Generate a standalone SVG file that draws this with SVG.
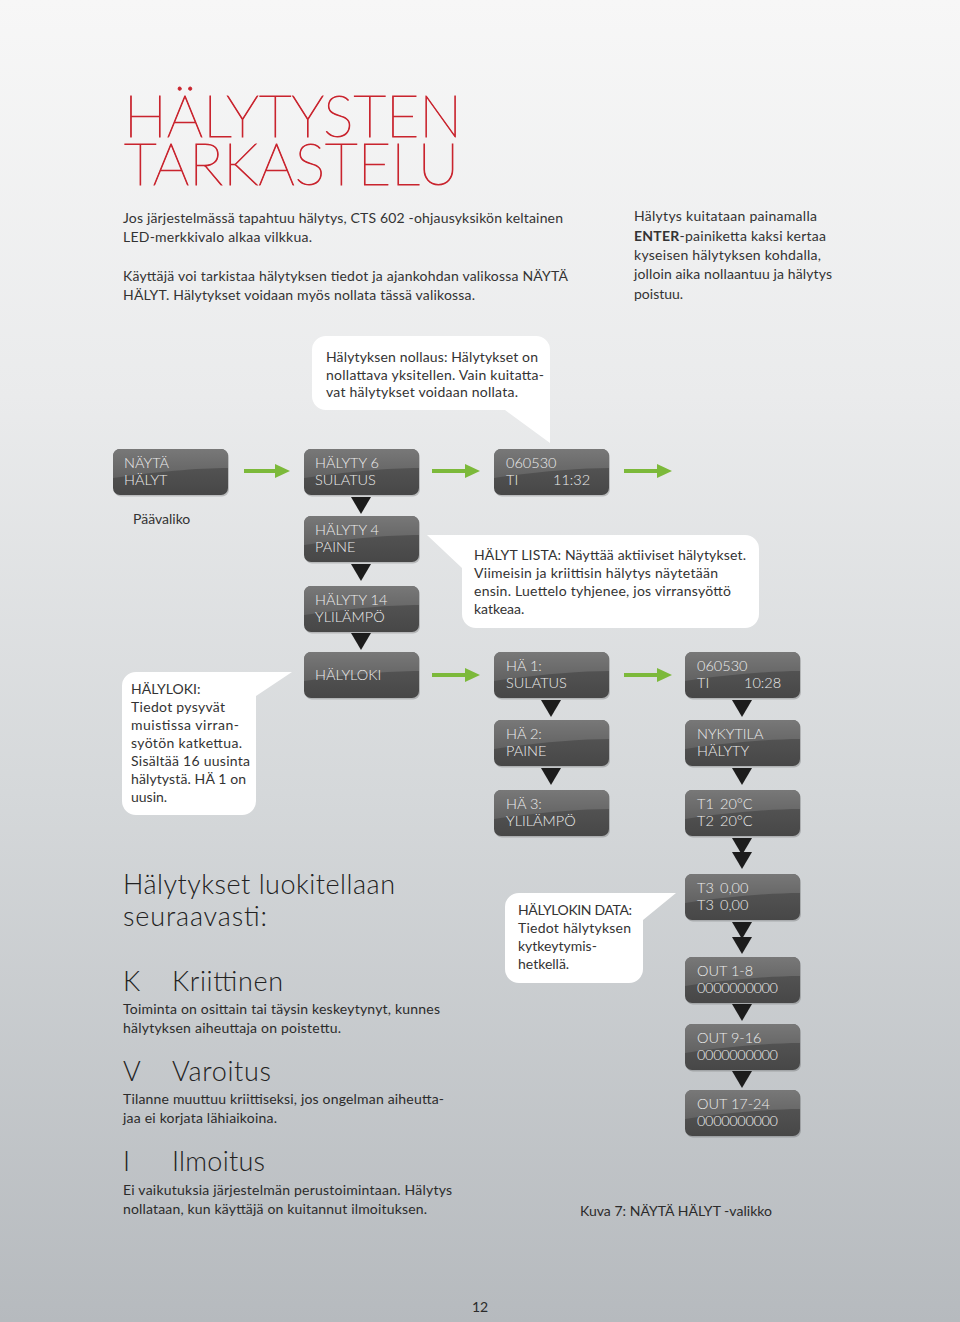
<svg xmlns="http://www.w3.org/2000/svg" xmlns:xlink="http://www.w3.org/1999/xlink" width="960" height="1322" viewBox="0 0 960 1322">
<style>
.t{font-family:Lato,"Liberation Sans",sans-serif;font-size:14px;fill:#333333}
.b{font-family:Lato,"Liberation Sans",sans-serif;font-size:14px;fill:#2b2b2b}
.lcd{font-family:Lato,"Liberation Sans",sans-serif;font-size:14.5px;fill:#ececec;font-weight:300}
.title{font-family:Lato,"Liberation Sans",sans-serif;font-size:58px;font-weight:100;fill:#c9242e;stroke:#c9242e;stroke-width:0.9}
.h{font-family:Lato,"Liberation Sans",sans-serif;font-size:27px;font-weight:300;fill:#222222}
.bubble{fill:#ffffff}
.tri{fill:#1c1c1c}
.garrow{stroke:#7cb93a;stroke-width:4}
.ghead{fill:#7cb93a}
</style>
<defs>
<linearGradient id="bg" x1="0" y1="0" x2="0" y2="1">
<stop offset="0" stop-color="#f7f7f7"/>
<stop offset="0.3" stop-color="#eaebec"/>
<stop offset="0.6" stop-color="#d5d8da"/>
<stop offset="1" stop-color="#b6babe"/>
</linearGradient>
<linearGradient id="gloss" x1="0" y1="0" x2="0" y2="1">
<stop offset="0" stop-color="#787878"/>
<stop offset="1" stop-color="#626262"/>
</linearGradient>
<linearGradient id="low" x1="0" y1="0" x2="0" y2="1">
<stop offset="0" stop-color="#5a5a5a"/>
<stop offset="1" stop-color="#474747"/>
</linearGradient>
<g id="lcdbox">
<rect x="1" y="1.5" width="115" height="46" rx="7" fill="#000000" opacity="0.18"/>
<rect width="115" height="46" rx="7" fill="url(#low)"/>
<path d="M7,0 H108 A7,7 0 0 1 115,7 V19 C85,19 40,23 0,29 V7 A7,7 0 0 1 7,0 Z" fill="url(#gloss)"/>
</g>
</defs>
<rect width="960" height="1322" fill="url(#bg)"/>

<g id="title">
<text class="title"><tspan x="124" y="137" textLength="338" lengthAdjust="spacingAndGlyphs">HÄLYTYSTEN</tspan><tspan x="124" y="185" textLength="335" lengthAdjust="spacingAndGlyphs">TARKASTELU</tspan></text>
</g>

<g id="intro">
<text class="t" x="123" y="223" textLength="440">Jos järjestelmässä tapahtuu hälytys, CTS 602 -ohjausyksikön keltainen</text>
<text class="t" x="123" y="242" textLength="189">LED-merkkivalo alkaa vilkkua.</text>
<text class="t" x="123" y="281" textLength="445">Käyttäjä voi tarkistaa hälytyksen tiedot ja ajankohdan valikossa NÄYTÄ</text>
<text class="t" x="123" y="300" textLength="352">HÄLYT. Hälytykset voidaan myös nollata tässä valikossa.</text>
</g>
<g id="intro-right">
<text class="t" x="634" y="221" textLength="183">Hälytys kuitataan painamalla</text>
<text class="t" x="634" y="241" textLength="192"><tspan font-weight="bold">ENTER</tspan>-painiketta kaksi kertaa</text>
<text class="t" x="634" y="260" textLength="187">kyseisen hälytyksen kohdalla,</text>
<text class="t" x="634" y="279" textLength="198">jolloin aika nollaantuu ja hälytys</text>
<text class="t" x="634" y="299">poistuu.</text>
</g>

<g id="bubble-nollaus">
<path class="bubble" d="M326,336 H536 A14,14 0 0 1 550,350 V443 L505,410 H326 A14,14 0 0 1 312,396 V350 A14,14 0 0 1 326,336 Z"/>
<text class="t" x="326" y="362" textLength="212">Hälytyksen nollaus: Hälytykset on</text>
<text class="t" x="326" y="380" textLength="218">nollattava yksitellen. Vain kuitatta-</text>
<text class="t" x="326" y="397" textLength="192">vat hälytykset voidaan nollata.</text>
</g>

<g id="bubble-lista">
<path class="bubble" d="M476,535 H745 A14,14 0 0 1 759,549 V614 A14,14 0 0 1 745,628 H476 A14,14 0 0 1 462,614 V568 L427,535 Z"/>
<text class="t" x="474" y="560" textLength="272">HÄLYT LISTA: Näyttää aktiiviset hälytykset.</text>
<text class="t" x="474" y="578" textLength="244">Viimeisin ja kriittisin hälytys näytetään</text>
<text class="t" x="474" y="596" textLength="257">ensin. Luettelo tyhjenee, jos virransyöttö</text>
<text class="t" x="474" y="614">katkeaa.</text>
</g>

<g id="bubble-halyloki">
<path class="bubble" d="M136,672 H292 L256,696 V801 A14,14 0 0 1 242,815 H136 A14,14 0 0 1 122,801 V686 A14,14 0 0 1 136,672 Z"/>
<text class="t" x="131" y="694">HÄLYLOKI:</text>
<text class="t" x="131" y="712" textLength="94">Tiedot pysyvät</text>
<text class="t" x="131" y="730" textLength="108">muistissa virran-</text>
<text class="t" x="131" y="748" textLength="111">syötön katkettua.</text>
<text class="t" x="131" y="766" textLength="119">Sisältää 16 uusinta</text>
<text class="t" x="131" y="784" textLength="115">hälytystä. HÄ 1 on</text>
<text class="t" x="131" y="802">uusin.</text>
</g>

<g id="bubble-data">
<path class="bubble" d="M519,893 H676 L643,920 V969 A14,14 0 0 1 629,983 H519 A14,14 0 0 1 505,969 V907 A14,14 0 0 1 519,893 Z"/>
<text class="t" x="518" y="915" textLength="114">HÄLYLOKIN DATA:</text>
<text class="t" x="518" y="933" textLength="113">Tiedot hälytyksen</text>
<text class="t" x="518" y="951">kytkeytymis-</text>
<text class="t" x="518" y="969">hetkellä.</text>
</g>

<g id="paavaliko"><text class="t" x="133" y="524">Päävaliko</text></g>

<g id="connectors">
<line class="garrow" x1="244" y1="471" x2="277" y2="471"/><polygon class="ghead" points="275,464 290,471 275,478"/>
<line class="garrow" x1="432" y1="471" x2="467" y2="471"/><polygon class="ghead" points="465,464 480,471 465,478"/>
<line class="garrow" x1="624" y1="471" x2="659" y2="471"/><polygon class="ghead" points="657,464 672,471 657,478"/>
<line class="garrow" x1="432" y1="675" x2="467" y2="675"/><polygon class="ghead" points="465,668 480,675 465,682"/>
<line class="garrow" x1="624" y1="675" x2="659" y2="675"/><polygon class="ghead" points="657,668 672,675 657,682"/>
<polygon class="tri" points="351,497 371,497 361,514"/>
<polygon class="tri" points="351,564 371,564 361,581"/>
<polygon class="tri" points="351,633 371,633 361,650"/>
<polygon class="tri" points="541,700 561,700 551,717"/>
<polygon class="tri" points="541,768 561,768 551,785"/>
<polygon class="tri" points="732,700 752,700 742,717"/>
<polygon class="tri" points="732,768 752,768 742,785"/>
<polygon class="tri" points="732,838 752,838 742,855"/>
<polygon class="tri" points="732,852 752,852 742,869"/>
<polygon class="tri" points="732,922 752,922 742,939"/>
<polygon class="tri" points="732,937 752,937 742,954"/>
<polygon class="tri" points="732,1004 752,1004 742,1021"/>
<polygon class="tri" points="732,1071 752,1071 742,1088"/>
</g>

<g id="n-nayta-halyt"><use xlink:href="#lcdbox" x="113" y="449"/><text class="lcd" x="124" y="468">NÄYTÄ</text><text class="lcd" x="124" y="485">HÄLYT</text></g>
<g id="n-halyty6"><use xlink:href="#lcdbox" x="304" y="449"/><text class="lcd" x="315" y="468">HÄLYTY 6</text><text class="lcd" x="315" y="485">SULATUS</text></g>
<g id="n-aika1"><use xlink:href="#lcdbox" x="494" y="449"/><text class="lcd" x="506" y="468">060530</text><text class="lcd" x="506" y="485">TI</text><text class="lcd" x="553" y="485">11:32</text></g>
<g id="n-halyty4"><use xlink:href="#lcdbox" x="304" y="516"/><text class="lcd" x="315" y="535">HÄLYTY 4</text><text class="lcd" x="315" y="552">PAINE</text></g>
<g id="n-halyty14"><use xlink:href="#lcdbox" x="304" y="586"/><text class="lcd" x="315" y="605">HÄLYTY 14</text><text class="lcd" x="315" y="622">YLILÄMPÖ</text></g>
<g id="n-halyloki"><use xlink:href="#lcdbox" x="304" y="652"/><text class="lcd" x="315" y="680">HÄLYLOKI</text></g>
<g id="n-ha1"><use xlink:href="#lcdbox" x="494" y="652"/><text class="lcd" x="506" y="671">HÄ 1:</text><text class="lcd" x="506" y="688">SULATUS</text></g>
<g id="n-ha2"><use xlink:href="#lcdbox" x="494" y="720"/><text class="lcd" x="506" y="739">HÄ 2:</text><text class="lcd" x="506" y="756">PAINE</text></g>
<g id="n-ha3"><use xlink:href="#lcdbox" x="494" y="790"/><text class="lcd" x="506" y="809">HÄ 3:</text><text class="lcd" x="506" y="826">YLILÄMPÖ</text></g>
<g id="n-aika2"><use xlink:href="#lcdbox" x="685" y="652"/><text class="lcd" x="697" y="671">060530</text><text class="lcd" x="697" y="688">TI</text><text class="lcd" x="744" y="688">10:28</text></g>
<g id="n-nykytila"><use xlink:href="#lcdbox" x="685" y="720"/><text class="lcd" x="697" y="739">NYKYTILA</text><text class="lcd" x="697" y="756">HÄLYTY</text></g>
<g id="n-t1t2"><use xlink:href="#lcdbox" x="685" y="790"/><text class="lcd" x="697" y="809">T1</text><text class="lcd" x="720" y="809">20°C</text><text class="lcd" x="697" y="826">T2</text><text class="lcd" x="720" y="826">20°C</text></g>
<g id="n-t3"><use xlink:href="#lcdbox" x="685" y="874"/><text class="lcd" x="697" y="893">T3</text><text class="lcd" x="720" y="893">0,00</text><text class="lcd" x="697" y="910">T3</text><text class="lcd" x="720" y="910">0,00</text></g>
<g id="n-out1"><use xlink:href="#lcdbox" x="685" y="957"/><text class="lcd" x="697" y="976">OUT 1-8</text><text class="lcd" x="697" y="993" textLength="81">0000000000</text></g>
<g id="n-out9"><use xlink:href="#lcdbox" x="685" y="1024"/><text class="lcd" x="697" y="1043">OUT 9-16</text><text class="lcd" x="697" y="1060" textLength="81">0000000000</text></g>
<g id="n-out17"><use xlink:href="#lcdbox" x="685" y="1090"/><text class="lcd" x="697" y="1109">OUT 17-24</text><text class="lcd" x="697" y="1126" textLength="81">0000000000</text></g>

<g id="luokitus">
<text class="h" x="123" y="894" textLength="272">Hälytykset luokitellaan</text>
<text class="h" x="123" y="926" textLength="144">seuraavasti:</text>
<text class="h" x="123" y="991">K</text><text class="h" x="172" y="991" textLength="111">Kriittinen</text>
<text class="b" x="123" y="1014" textLength="317">Toiminta on osittain tai täysin keskeytynyt, kunnes</text>
<text class="b" x="123" y="1033" textLength="218">hälytyksen aiheuttaja on poistettu.</text>
<text class="h" x="123" y="1081">V</text><text class="h" x="172" y="1081" textLength="99">Varoitus</text>
<text class="b" x="123" y="1104" textLength="321">Tilanne muuttuu kriittiseksi, jos ongelman aiheutta-</text>
<text class="b" x="123" y="1123" textLength="154">jaa ei korjata lähiaikoina.</text>
<text class="h" x="123" y="1171">I</text><text class="h" x="172" y="1171" textLength="93">Ilmoitus</text>
<text class="b" x="123" y="1195" textLength="329">Ei vaikutuksia järjestelmän perustoimintaan. Hälytys</text>
<text class="b" x="123" y="1214" textLength="304">nollataan, kun käyttäjä on kuitannut ilmoituksen.</text>
</g>

<g id="caption"><text class="b" x="580" y="1216" textLength="192">Kuva 7: NÄYTÄ HÄLYT  -valikko</text></g>
<g id="page"><text class="b" x="472" y="1312">12</text></g>
</svg>
